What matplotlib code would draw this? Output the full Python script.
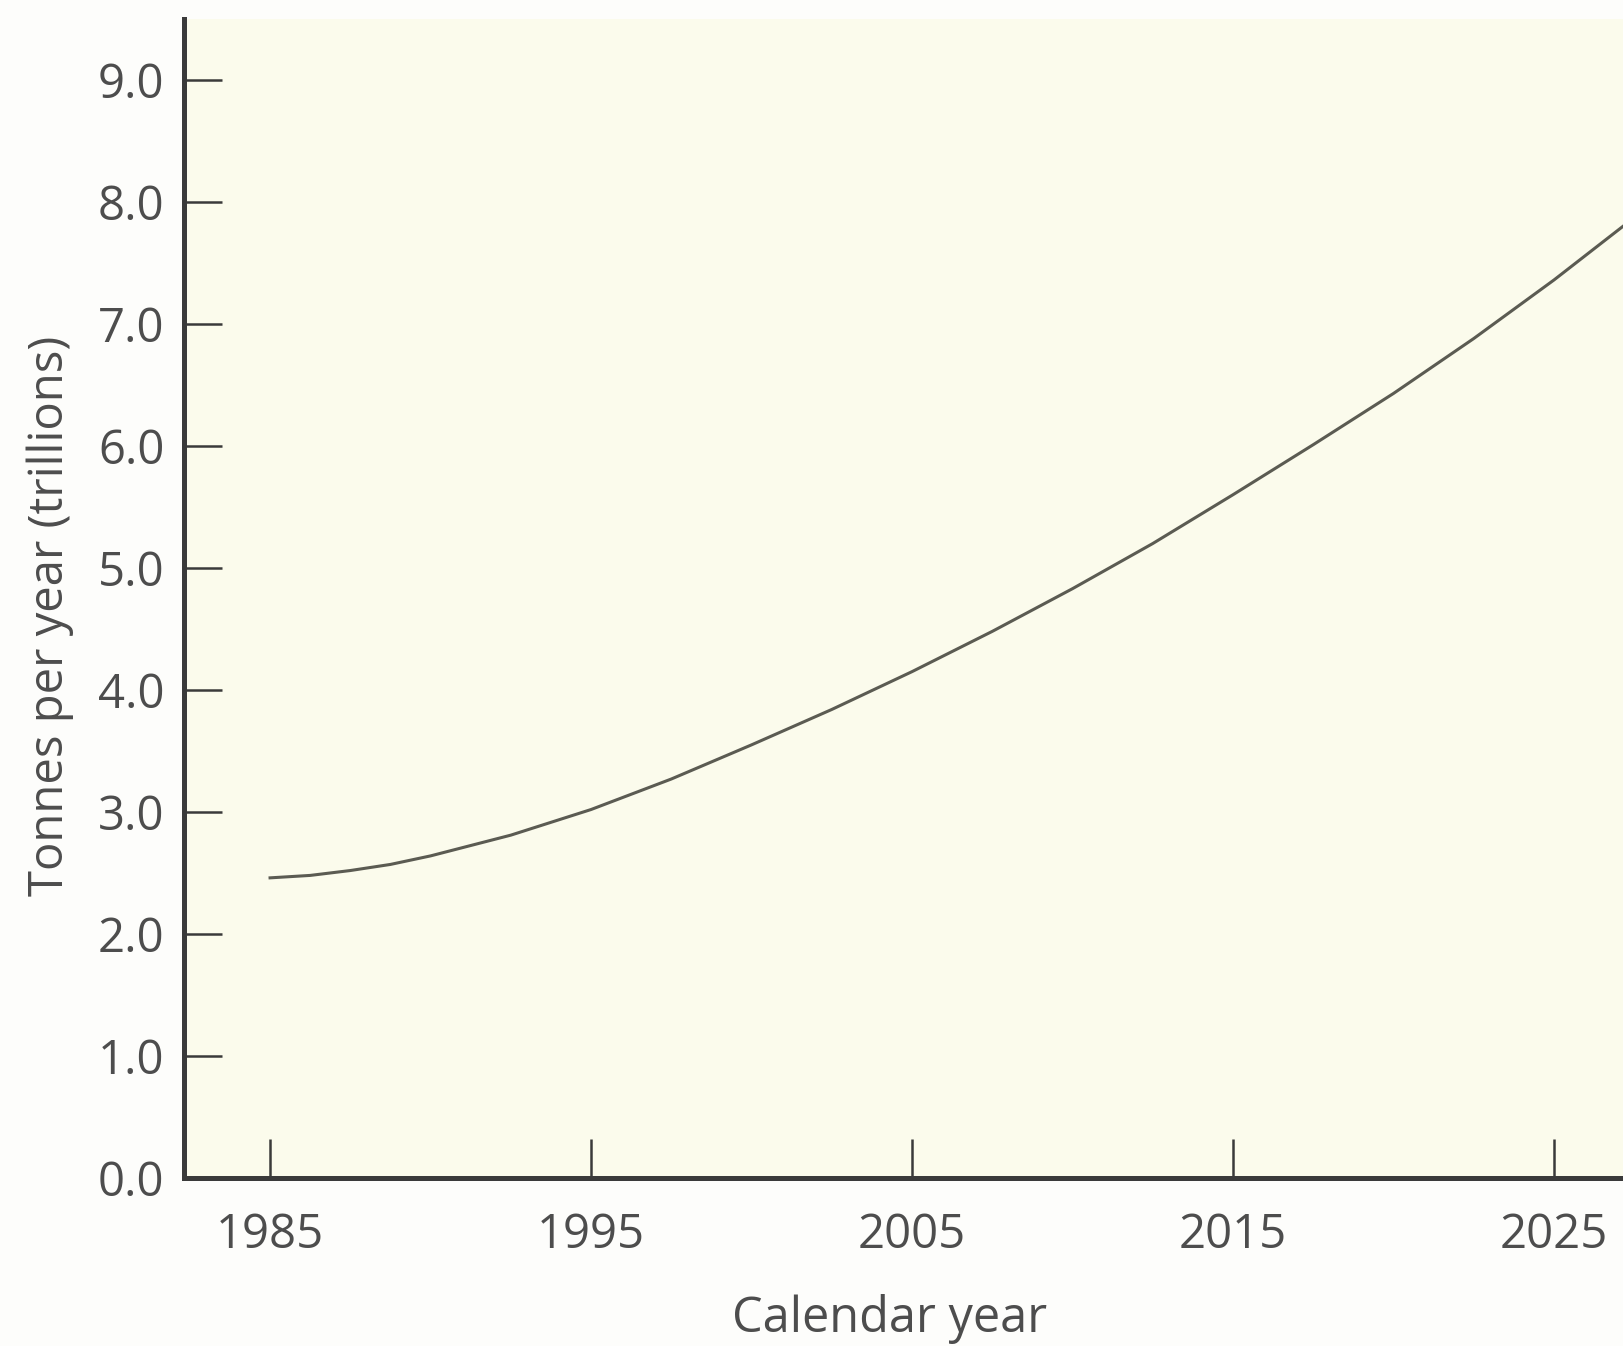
import matplotlib.pyplot as plt

# values
years = [1985, 1986.25, 1987.5, 1988.75, 1990, 1992.5, 1995, 1997.5, 2000, 2002.5,
         2005, 2007.5, 2010, 2012.5, 2015, 2017.5, 2020, 2022.5, 2025, 2027.2]
tonnes = [2.46, 2.48, 2.52, 2.57, 2.64, 2.81, 3.02, 3.27, 3.55, 3.84,
          4.15, 4.48, 4.83, 5.20, 5.60, 6.01, 6.43, 6.88, 7.36, 7.81]

x_ticks = [1985, 1995, 2005, 2015, 2025]
y_ticks = [0.0, 1.0, 2.0, 3.0, 4.0, 5.0, 6.0, 7.0, 8.0, 9.0]

plt.rcParams['font.family'] = ['Open Sans', 'DejaVu Sans']

text_color = '#4d4d4d'
axis_color = '#3a3a3a'

fig = plt.figure(figsize=(16.23, 13.46), dpi=100, facecolor='#fdfdfb')
ax = fig.add_axes([0.1134, 0.1248, 0.8866, 0.8612])
ax.set_facecolor('#fbfbec')

ax.plot(years, tonnes, color='#5b5b52', linewidth=2.2, solid_joinstyle='round')

ax.set_xlim(1982.32, 2027.15)
ax.set_ylim(0, 9.5)
ax.set_xticks(x_ticks)
ax.set_xticklabels([str(y) for y in x_ticks])
ax.set_yticks(y_ticks)
ax.set_yticklabels([f'{v:.1f}' for v in y_ticks])

for side in ['top', 'right']:
    ax.spines[side].set_visible(False)
for side in ['left', 'bottom']:
    ax.spines[side].set_linewidth(3.6)
    ax.spines[side].set_color(axis_color)

ax.tick_params(axis='x', direction='in', length=28, width=1.8, color=axis_color,
               labelsize=34, labelcolor=text_color, pad=24)
ax.tick_params(axis='y', direction='in', length=27, width=1.8, color=axis_color,
               labelsize=34, labelcolor=text_color, pad=14)

ax.set_xlabel('Calendar year', fontsize=35, color=text_color, va='center')
ax.xaxis.set_label_coords(0.4906, -0.122)
ax.set_ylabel('Tonnes per year (trillions)', fontsize=34, color=text_color, va='center')
ax.yaxis.set_label_coords(-0.093, 0.485)

fig.savefig('out.png', dpi=100, facecolor=fig.get_facecolor())
